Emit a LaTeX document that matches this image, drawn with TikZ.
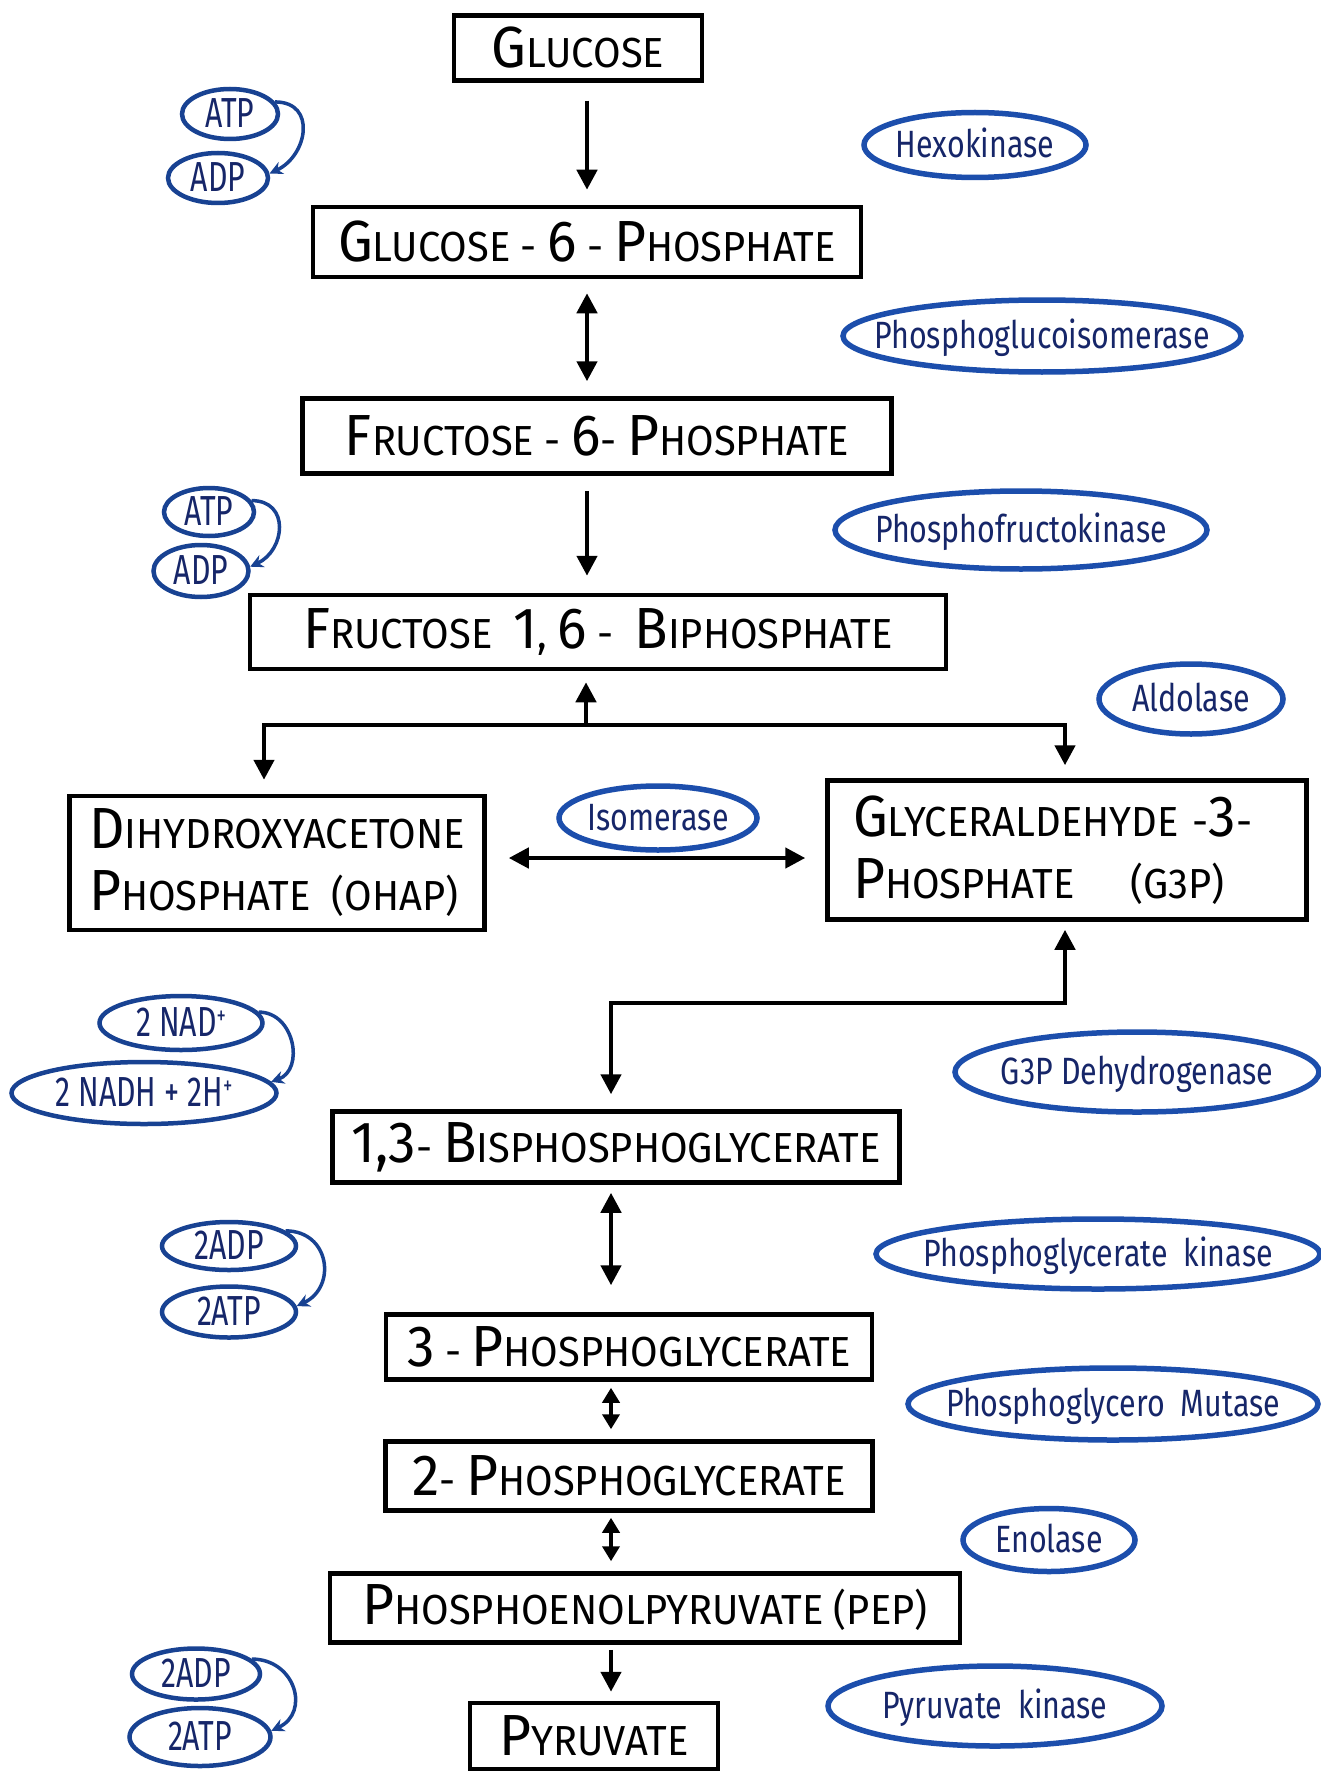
\documentclass[tikz,border=0pt]{standalone}
\usepackage{fontspec}
\usetikzlibrary{arrows.meta,shapes.geometric}
\newfontfamily\boxfont[FakeStretch=0.95]{Fira Sans}
\newfontfamily\handfont[FakeStretch=0.8]{Fira Sans}
\newfontfamily\cofont[FakeStretch=0.72]{Fira Sans}
\definecolor{inkblue}{RGB}{28,78,172}
\definecolor{navy}{RGB}{22,38,105}
% larger initial letters in the metabolite names
\newcommand\BL[1]{{\fontsize{58}{58}\selectfont #1}}
\newcommand\plus{\raisebox{0.55ex}{\fontsize{26}{26}\selectfont +}}
% label of zero size, so that the ellipse keeps its own size
\newcommand\inell[1]{\smash{\makebox[0pt]{\raisebox{-0.33em}{#1}}}}

\tikzset{
  chem/.style={draw=black, line width=4.5pt, rectangle, inner sep=0pt,
    font=\boxfont\fontsize{42}{62}\selectfont},
  enz/.style={draw=inkblue, line width=5.5pt, ellipse, inner sep=0pt,
    text=navy, font=\handfont\fontsize{38}{40}\selectfont},
  cof/.style={draw=inkblue!85!black, line width=4.5pt, ellipse, inner sep=0pt,
    text=navy, font=\cofont\fontsize{42}{44}\selectfont},
  flow/.style={line width=4.5pt, -{Triangle[length=20pt,width=20pt]}},
  flowtwo/.style={line width=4.5pt, {Triangle[length=20pt,width=20pt]}-{Triangle[length=20pt,width=20pt]}},
  flowshort/.style={line width=4.5pt, {Triangle[length=15pt,width=17pt]}-{Triangle[length=15pt,width=17pt]}},
  cofarrow/.style={draw=inkblue!85!black, line width=3.5pt, -{Stealth[length=13pt,width=13pt]}},
}

\begin{document}
\begin{tikzpicture}[x=1pt,y=-1pt]
\fill[white] (0,0) rectangle (1321,1771);
\useasboundingbox (0,0) rectangle (1321,1771);

% metabolites
\node[chem, minimum width=248, minimum height=65] (glc) at (578,48) {\BL{G}LUCOSE};
\node[chem, minimum width=548, minimum height=70] (g6p) at (587,242) {\BL{G}LUCOSE - \BL{6} - \BL{P}HOSPHATE};
\node[chem, minimum width=589, minimum height=75] (f6p) at (597,436) {\BL{F}RUCTOSE - \BL{6}- \BL{P}HOSPHATE};
\node[chem, minimum width=696, minimum height=74] (f16) at (598,632) {\BL{F}RUCTOSE\ \ \BL{1}, \BL{6}\ -\ \ \BL{B}IPHOSPHATE};
\node[chem, minimum width=415, minimum height=134, align=left] (dhap) at (277,863)
  {\BL{D}IHYDROXYACETONE\\\BL{P}HOSPHATE\ \ (OHAP)};
\node[chem, minimum width=479, minimum height=139, text width=428, align=left] (g3p) at (1067,850)
  {\BL{G}LYCERALDEHYDE -\BL{3}-\\\BL{P}HOSPHATE\quad\ (G3P)};
\node[chem, minimum width=567, minimum height=71] (bpg) at (616,1147) {\BL{1,3}- \BL{B}ISPHOSPHOGLYCERATE};
\node[chem, minimum width=486, minimum height=65] (pgthree) at (629,1347) {\BL{3} - \BL{P}HOSPHOGLYCERATE};
\node[chem, minimum width=487, minimum height=69] (pgtwo) at (629,1476) {\BL{2}- \BL{P}HOSPHOGLYCERATE};
\node[chem, minimum width=630, minimum height=69] (pep) at (645,1608) {\BL{P}HOSPHOENOLPYRUVATE (PEP)};
\node[chem, minimum width=248, minimum height=66] (pyr) at (594,1736) {\BL{P}YRUVATE};

% enzymes
\node[enz, minimum width=222, minimum height=65] (hexo) at (975,145) {\inell{Hexokinase}};
\node[enz, minimum width=398, minimum height=72] (pgi) at (1042,336) {\inell{Phosphoglucoisomerase}};
\node[enz, minimum width=372, minimum height=78] (pfk) at (1021,530) {\inell{Phosphofructokinase}};
\node[enz, minimum width=184, minimum height=70] (ald) at (1191,699) {\inell{Aldolase}};
\node[enz, minimum width=198, minimum height=64] (tpi) at (658,818) {\inell{Isomerase}};
\node[enz, minimum width=364, minimum height=80] (gapdh) at (1137,1072) {\inell{G3P Dehydrogenase}};
\node[enz, minimum width=444, minimum height=70] (pgk) at (1098,1254) {\inell{Phosphoglycerate\ \ kinase}};
\node[enz, minimum width=410, minimum height=72] (pgm) at (1113,1404) {\inell{Phosphoglycero\ \ Mutase}};
\node[enz, minimum width=172, minimum height=63] (eno) at (1049,1540) {\inell{Enolase}};
\node[enz, minimum width=334, minimum height=80] (pk) at (995,1706) {\inell{Pyruvate\ \ kinase}};

% cofactors
\node[cof, minimum width=96, minimum height=50] (atpa) at (230,114) {\inell{ATP}};
\node[cof, minimum width=100, minimum height=50] (adpa) at (218,178) {\inell{ADP}};
\node[cof, minimum width=90, minimum height=48] (atpb) at (209,512) {\inell{ATP}};
\node[cof, minimum width=95, minimum height=52] (adpb) at (201,571) {\inell{ADP}};
\node[cof, minimum width=163, minimum height=54] (nad) at (181,1023) {\inell{2 NAD\plus}};
\node[cof, minimum width=265, minimum height=62] (nadh) at (144,1093) {\inell{2 NADH + 2H\plus}};
\node[cof, minimum width=134, minimum height=48] (adpc) at (229,1246) {\inell{2ADP}};
\node[cof, minimum width=134, minimum height=51] (atpc) at (229,1312) {\inell{2ATP}};
\node[cof, minimum width=128, minimum height=51] (adpd) at (196,1674) {\inell{2ADP}};
\node[cof, minimum width=141, minimum height=58] (atpd) at (200,1737) {\inell{2ATP}};

% junction points of the branched connectors
\coordinate (split) at (586,725);
\coordinate (al) at (264,725);
\coordinate (ar) at (1065,725);
\coordinate (gj) at (1065,1003);
\coordinate (bj) at (611,1003);
\coordinate (isoy) at (0,858);

% main pathway
\draw[flow, shorten <=18pt, shorten >=15pt] (g6p.north |- glc.south) -- (g6p.north);
\draw[flowtwo, shorten <=14pt, shorten >=15pt] (g6p.south) -- (g6p.south |- f6p.north);
\draw[flow, shorten <=15pt, shorten >=17pt] (g6p.south |- f6p.south) -- (g6p.south |- f16.north);
\draw[flow, shorten >=11pt] (split) -- (split |- f16.south);
\draw[flowtwo, shorten <=14pt, shorten >=13pt, line join=miter]
  (al |- dhap.north) -- (al) -- (ar) -- (ar |- g3p.north);
\draw[flowtwo, shorten <=22pt, shorten >=20pt] (dhap.east |- isoy) -- (g3p.west |- isoy);
\draw[flowtwo, shorten <=15pt, shorten >=8pt, line join=miter]
  (bj |- bpg.north) -- (bj) -- (gj) -- (gj |- g3p.south);
\draw[flowtwo, shorten <=8pt, shorten >=27pt] (bj |- bpg.south) -- (bj |- pgthree.north);
\draw[flowshort, shorten <=6pt, shorten >=10pt] (bj |- pgthree.south) -- (bj |- pgtwo.north);
\draw[flowshort, shorten <=5pt, shorten >=10pt] (bj |- pgtwo.south) -- (bj |- pep.north);
\draw[flow, shorten <=5pt, shorten >=9pt] (bj |- pep.south) -- (bj |- pyr.north);

% cofactor exchanges
\draw[cofarrow] (atpa.15) to[out=0, in=25, looseness=1.5] (adpa.5);
\draw[cofarrow] (atpb.15) to[out=0, in=25, looseness=1.5] (adpb.5);
\draw[cofarrow] (nad.8) to[out=0, in=20, looseness=1.3] (nadh.5);
\draw[cofarrow] (adpc.15) to[out=0, in=25, looseness=1.5] (atpc.5);
\draw[cofarrow] (adpd.15) to[out=0, in=25, looseness=1.5] (atpd.5);
\end{tikzpicture}
\end{document}
